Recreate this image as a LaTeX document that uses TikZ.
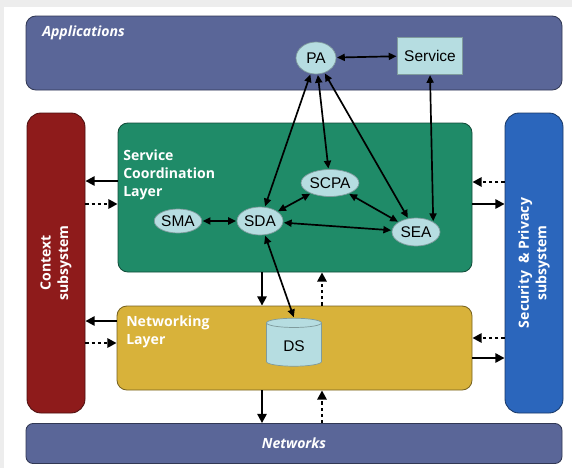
\documentclass[tikz,border=0pt]{standalone}
\usepackage{fontspec}
\setmainfont{Liberation Sans}
\newfontfamily\layerfont{Open Sans}
\usepackage{xcolor}
\usepackage{tikz}
\usetikzlibrary{calc,arrows.meta,shapes.geometric}

\definecolor{appblue}{HTML}{5A6698}
\definecolor{ctxred}{HTML}{8E1B1B}
\definecolor{sclgreen}{HTML}{1F8B68}
\definecolor{nlgold}{HTML}{D8B23A}
\definecolor{secblue}{HTML}{2B66BC}
\definecolor{agentfill}{HTML}{B6DDE1}
\definecolor{pagegray}{HTML}{EDEDED}

\newcommand{\pxu}{0.025cm}

\begin{document}
\begin{tikzpicture}[x=0.025cm, y=-0.025cm,
    layer/.style={draw=#1!55!black, fill=#1, line width=0.6pt, rounded corners=7pt, inner sep=0pt},
    layertext/.style={text=white, font=\layerfont\bfseries\fontsize{10}{12.5}\selectfont, align=left, inner sep=0pt},
    agent/.style={ellipse, draw=agentfill!70!black, fill=agentfill, line width=0.5pt, inner sep=0pt,
      font=\fontsize{11}{13}\selectfont},
    link/.style={{Triangle[length=5.5pt,width=5pt]}-{Triangle[length=5.5pt,width=5pt]}, line width=1.2pt, shorten <=0.5pt, shorten >=0.5pt},
    flow/.style={-{Triangle[length=6.5pt,width=6.5pt]}, line width=1.5pt},
    hint/.style={-{Triangle[length=6.5pt,width=6.5pt]}, line width=1.7pt, dash pattern=on 2.2pt off 2.2pt}]

  \useasboundingbox (0,0) rectangle (572,468);
  \fill[pagegray] (0,0) rectangle (572,468);
  \fill[white] (4,7) rectangle (572,468);

  % layers and subsystems
  \node[layer=appblue, minimum width=536*\pxu, minimum height=74*\pxu] (app) at (294,53) {};
  \node[layer=ctxred, rounded corners=10pt, minimum width=58*\pxu, minimum height=300*\pxu] (ctx) at (56,263) {};
  \node[layer=sclgreen, minimum width=354*\pxu, minimum height=149*\pxu] (scl) at (295,197.5) {};
  \node[layer=secblue, rounded corners=10pt, minimum width=58*\pxu, minimum height=300*\pxu] (sec) at (534,263) {};
  \node[layer=nlgold, minimum width=355*\pxu, minimum height=84*\pxu] (nl) at (294.5,348) {};
  \node[layer=appblue, rounded corners=5pt, minimum width=536*\pxu, minimum height=40*\pxu] (net) at (294,443.5) {};

  \node[layertext, font=\layerfont\bfseries\itshape\fontsize{10}{12}\selectfont, anchor=west] (applabel) at (42,33) {Applications};
  \node[layertext, anchor=north west] (scllabel) at (123,150) {Service\\Coordination\\Layer};
  \node[layertext, anchor=north west] (nllabel) at (126,316) {Networking\\Layer};
  \node[layertext, font=\layerfont\bfseries\itshape\fontsize{10}{12}\selectfont] (netlabel) at (294,443) {Networks};
  \node[layertext, align=center, rotate=90] (ctxlabel) at (56,263) {Context\\subsystem};
  \node[layertext, align=center, rotate=90] (seclabel) at (534,263) {Security~ \& Privacy\\subsystem};

  % agents
  \node[agent, minimum width=40*\pxu, minimum height=32*\pxu] (pa) at (316,58) {PA};
  \node[draw=agentfill!70!black, fill=agentfill, line width=0.5pt, minimum width=65*\pxu, minimum height=37*\pxu,
    font=\fontsize{11}{13}\selectfont] (service) at (430,55.5) {Service};
  \node[agent, minimum width=47*\pxu, minimum height=24*\pxu] (sma) at (178,221) {SMA};
  \node[agent, minimum width=46*\pxu, minimum height=28*\pxu] (sda) at (260,221) {SDA};
  \node[agent, minimum width=50*\pxu, minimum height=27*\pxu] (scpa) at (330,183) {SCPA};
  \node[agent, minimum width=48*\pxu, minimum height=28*\pxu] (sea) at (416,232) {SEA};
  \node[cylinder, shape border rotate=90, aspect=0.3, draw=agentfill!70!black, fill=agentfill, line width=0.5pt,
    minimum height=48*\pxu, minimum width=55*\pxu, font=\fontsize{11}{13}\selectfont] (ds) at (294,346) {DS};

  % agent links
  \draw[link] (pa) -- (service);
  \draw[link] (sda) -- (pa);
  \draw[link] (scpa) -- (pa);
  \draw[link] (sea) -- (pa);
  \draw[link] (sea.north east) -- (service.south);
  \draw[link] (sma) -- (sda);
  \draw[link] (sda) -- (scpa);
  \draw[link] (scpa) -- (sea);
  \draw[link] (sda) -- (sea);
  \draw[link] (sda) -- (ds.north);

  % flows between layers
  \coordinate (ysl) at (0,181);
  \coordinate (ydl) at (0,204);
  \coordinate (ynl) at (0,321);
  \coordinate (ynld) at (0,343);
  \coordinate (ysr) at (0,182);
  \coordinate (ysrs) at (0,204);
  \coordinate (ynr) at (0,338);
  \coordinate (ynrs) at (0,358);
  \coordinate (xdown) at (262,0);
  \coordinate (xup) at (322,0);

  \draw[flow] (scl.west |- ysl) -- (ctx.east |- ysl);
  \draw[hint] (ctx.east |- ydl) -- (scl.west |- ydl);
  \draw[flow] (nl.west |- ynl) -- (ctx.east |- ynl);
  \draw[hint] (ctx.east |- ynld) -- (nl.west |- ynld);

  \draw[hint] (sec.west |- ysr) -- (scl.east |- ysr);
  \draw[flow] (scl.east |- ysrs) -- (sec.west |- ysrs);
  \draw[hint] (sec.west |- ynr) -- (nl.east |- ynr);
  \draw[flow] (nl.east |- ynrs) -- (sec.west |- ynrs);

  \draw[flow] (xdown |- scl.south) -- (xdown |- nl.north);
  \draw[hint] (xup |- nl.north) -- (xup |- scl.south);
  \draw[flow] (xdown |- nl.south) -- (xdown |- net.north);
  \draw[hint] (xup |- net.north) -- (xup |- nl.south);
\end{tikzpicture}
\end{document}
